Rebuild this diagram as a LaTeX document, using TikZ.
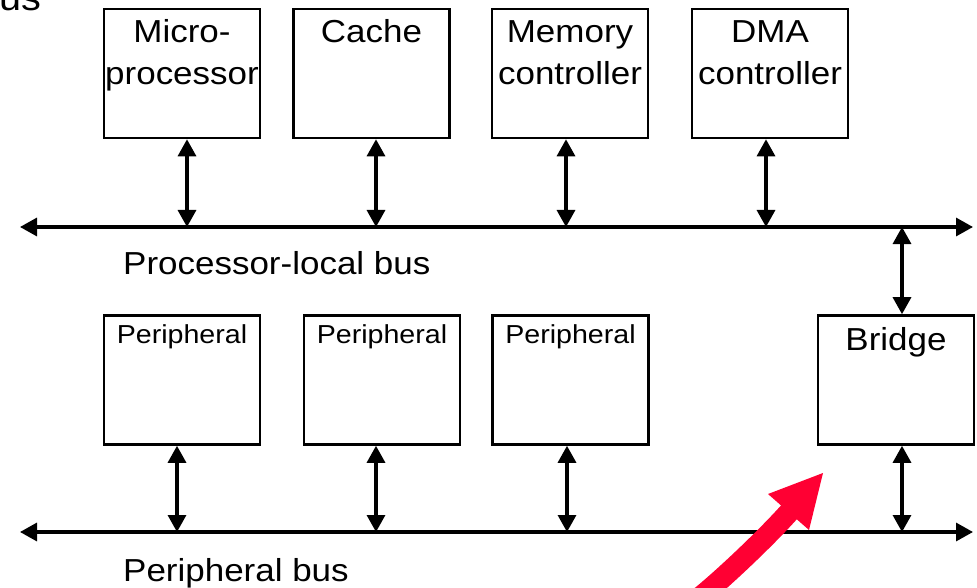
\documentclass[tikz,border=0pt]{standalone}
\usepackage{fontspec}
\setmainfont{Liberation Sans}[FakeStretch=1.1]
\usetikzlibrary{arrows.meta,calc}

\begin{document}
\begin{tikzpicture}[x=1pt,y=-1pt,
  unit/.style={draw, line width=2.6pt, minimum width=156pt, minimum height=129pt, inner sep=0},
  bigtxt/.style={font=\fontsize{31.8}{42}\selectfont, inner sep=0, anchor=base},
  smalltxt/.style={font=\fontsize{26}{30}\selectfont, inner sep=0, anchor=base},
  link/.style={line width=3.2pt, {Triangle[length=17pt,width=18pt]}-{Triangle[length=17pt,width=18pt]}},
  pointer/.style={color=hilite, line width=21pt}
]
\definecolor{hilite}{HTML}{FF0033}
\useasboundingbox (0,0) rectangle (977,588);
\clip (0,0) rectangle (977,588);

% heading (top edge)
\node[font=\fontsize{36}{40}\selectfont, inner sep=0, anchor=base west] (head) at (-1,11) {us};

% bus levels
\coordinate (plbus) at (0,227);
\coordinate (ppbus) at (0,532);
\coordinate (plL) at (20,227);
\coordinate (plR) at (973,227);
\coordinate (ppL) at (20,532);
\coordinate (ppR) at (973,532);

% processor-local units
\node[unit] (micro) at (182,73.5) {};
\node[unit] (cache) at (371.5,73.5) {};
\node[unit] (memc)  at (570,73.5) {};
\node[unit] (dmac)  at (770,73.5) {};

\node[bigtxt] (microA) at ([yshift=-35pt]micro.north) {Micro-};
\node[bigtxt] (microB) at ([yshift=-77pt]micro.north) {processor};
\node[bigtxt] (cacheA) at ([yshift=-35pt]cache.north) {Cache};
\node[bigtxt] (memcA)  at ([yshift=-35pt]memc.north) {Memory};
\node[bigtxt] (memcB)  at ([yshift=-77pt]memc.north) {controller};
\node[bigtxt] (dmacA)  at ([yshift=-35pt]dmac.north) {DMA};
\node[bigtxt] (dmacB)  at ([yshift=-77pt]dmac.north) {controller};

% peripheral units and bridge
\node[unit] (per1)   at (182,380) {};
\node[unit] (per2)   at (382,380) {};
\node[unit] (per3)   at (570.5,380) {};
\node[unit] (bridge) at (896,380) {};

\node[smalltxt] (per1t) at ([yshift=-29.5pt]per1.north) {Peripheral};
\node[smalltxt] (per2t) at ([yshift=-29.5pt]per2.north) {Peripheral};
\node[smalltxt] (per3t) at ([yshift=-29.5pt]per3.north) {Peripheral};
\node[bigtxt] (bridget) at ([yshift=-36pt]bridge.north) {Bridge};

% buses
\draw[link] (plL) -- (plR);
\draw[link] (ppL) -- (ppR);

\node[bigtxt, anchor=base west] (pllabel) at (123,274) {Processor-local bus};
\node[bigtxt, anchor=base west] (pplabel) at (123,581) {Peripheral bus};

% unit-to-bus links
\draw[link] ([xshift=5pt]micro.south) -- ([xshift=5pt]micro.south |- plbus);
\draw[link] ([xshift=4.5pt]cache.south) -- ([xshift=4.5pt]cache.south |- plbus);
\draw[link] ([xshift=-4pt]memc.south) -- ([xshift=-4pt]memc.south |- plbus);
\draw[link] ([xshift=-4pt]dmac.south) -- ([xshift=-4pt]dmac.south |- plbus);
\draw[link] ([xshift=6pt]bridge.north |- plbus) -- ([xshift=6pt]bridge.north);

\draw[link] ([xshift=-5pt]per1.south) -- ([xshift=-5pt]per1.south |- ppbus);
\draw[link] ([xshift=-6pt]per2.south) -- ([xshift=-6pt]per2.south |- ppbus);
\draw[link] ([xshift=-3.5pt]per3.south) -- ([xshift=-3.5pt]per3.south |- ppbus);
\draw[link] ([xshift=6pt]bridge.south) -- ([xshift=6pt]bridge.south |- ppbus);

% red pointer towards the bridge
\coordinate (ptrStart) at (699,598);
\coordinate (ptrEnd) at (791,510);
\coordinate (ptrTip) at (823,473);
\coordinate (ptrWingL) at (768,494);
\coordinate (ptrWingR) at (809,530);
\draw[pointer] (ptrStart) .. controls (724,578) and (769,535) .. (ptrEnd);
\fill[hilite] (ptrTip) -- (ptrWingL) -- (ptrWingR) -- cycle;
\end{tikzpicture}
\end{document}
